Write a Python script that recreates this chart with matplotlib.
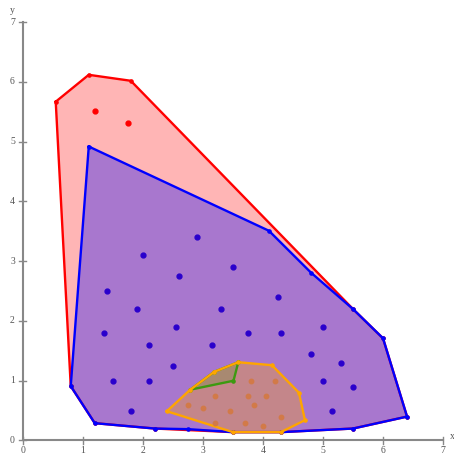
import matplotlib
matplotlib.use("Agg")
import matplotlib.pyplot as plt

# hull outlines (vertices in order)
red_hull_x = [0.55, 1.10, 1.80, 5.50, 6.00, 6.40, 5.50, 4.30, 3.50, 2.20, 1.20, 0.80]
red_hull_y = [5.67, 6.12, 6.02, 2.20, 1.71, 0.40, 0.20, 0.14, 0.14, 0.20, 0.29, 0.91]
blue_hull_x = [1.10, 4.10, 4.80, 5.50, 6.00, 6.40, 5.50, 4.30, 3.50, 2.75, 2.20, 1.20, 0.80]
blue_hull_y = [4.92, 3.51, 2.81, 2.20, 1.71, 0.40, 0.20, 0.14, 0.14, 0.19, 0.20, 0.29, 0.91]
orange_hull_x = [2.40, 2.79, 3.19, 3.59, 4.15, 4.60, 4.70, 4.30, 3.50]
orange_hull_y = [0.49, 0.85, 1.15, 1.31, 1.26, 0.80, 0.34, 0.14, 0.14]
green_hull_x = [2.79, 3.19, 3.59, 3.51]
green_hull_y = [0.85, 1.15, 1.31, 1.00]

# interior points
red_pts_x = [1.20, 1.75]
red_pts_y = [5.51, 5.31]
blue_pts_x = [2.90, 2.00, 2.60, 1.40, 1.90, 3.30, 1.35, 2.55, 2.10, 3.15, 2.50, 1.50,
              2.10, 1.80, 3.50, 4.25, 5.00, 3.75, 4.30, 4.80, 5.30, 5.00, 5.50, 5.15]
blue_pts_y = [3.41, 3.10, 2.75, 2.50, 2.20, 2.20, 1.80, 1.90, 1.60, 1.60, 1.25, 1.00,
              1.00, 0.50, 2.91, 2.40, 1.90, 1.80, 1.80, 1.45, 1.30, 1.00, 0.90, 0.50]
orange_pts_x = [3.80, 4.20, 3.20, 3.75, 4.05, 2.75, 3.00, 3.85, 3.45, 3.20, 3.70, 4.00, 4.30]
orange_pts_y = [1.00, 1.00, 0.75, 0.75, 0.75, 0.60, 0.54, 0.60, 0.49, 0.30, 0.30, 0.25, 0.40]

ticks = [0, 1, 2, 3, 4, 5, 6, 7]
axis_col = "#888888"
font = {"family": "Liberation Serif", "color": "#555555", "size": 7}

fig = plt.figure(figsize=(4.54, 4.54), dpi=100)
ax = fig.add_axes([0, 0, 1, 1])
ax.set_xlim(-0.378, 7.182)
ax.set_ylim(-0.226, 7.372)
ax.axis("off")

# axes
ax.plot([0, 7], [0, 0], color=axis_col, lw=1.5, zorder=1)
ax.plot([0, 0], [0, 7], color=axis_col, lw=1.5, zorder=1)
for t in ticks:
    ax.plot([t, t], [-0.06, 0.06], color=axis_col, lw=1.0, zorder=1)
    ax.plot([-0.06, 0.06], [t, t], color=axis_col, lw=1.0, zorder=1)
    ax.text(t, -0.17, str(t), ha="center", va="center", fontdict=font)
    if t > 0:
        ax.text(-0.17, t, str(t), ha="center", va="center", fontdict=font)
ax.text(-0.17, 0.0, "0", ha="center", va="center", fontdict=font)
ax.text(-0.17, 7.2, "y", ha="center", va="center", fontdict=font)
ax.text(7.15, 0.06, "x", ha="center", va="center", fontdict=font)

layers = [
    (red_hull_x, red_hull_y, "#ff0000", 0.29),
    (blue_hull_x, blue_hull_y, "#0000ff", 0.34),
    (orange_hull_x, orange_hull_y, "#ffa500", 0.33),
    (green_hull_x, green_hull_y, "#3c9a10", 0.2),
]
z = 2
for hx, hy, col, a in layers:
    ax.fill(hx, hy, color=col, alpha=a, lw=0, zorder=z)
    z += 1
for hx, hy, col, a in [layers[0], layers[1], layers[3], layers[2]]:
    ax.plot(hx + hx[:1], hy + hy[:1], color=col, lw=1.7, zorder=z,
            solid_joinstyle="miter")
    ax.plot(hx, hy, "o", color=col, ms=2.3, zorder=z)
    z += 1

ax.plot(red_pts_x, red_pts_y, "o", color="#ff0000", ms=3.5, zorder=z)
ax.plot(blue_pts_x, blue_pts_y, "o", color="#2a00cc", ms=3.5, zorder=z)
ax.plot(orange_pts_x, orange_pts_y, "o", color="#d27a48", ms=3.2, zorder=z)

fig.savefig("out.png", dpi=100)
